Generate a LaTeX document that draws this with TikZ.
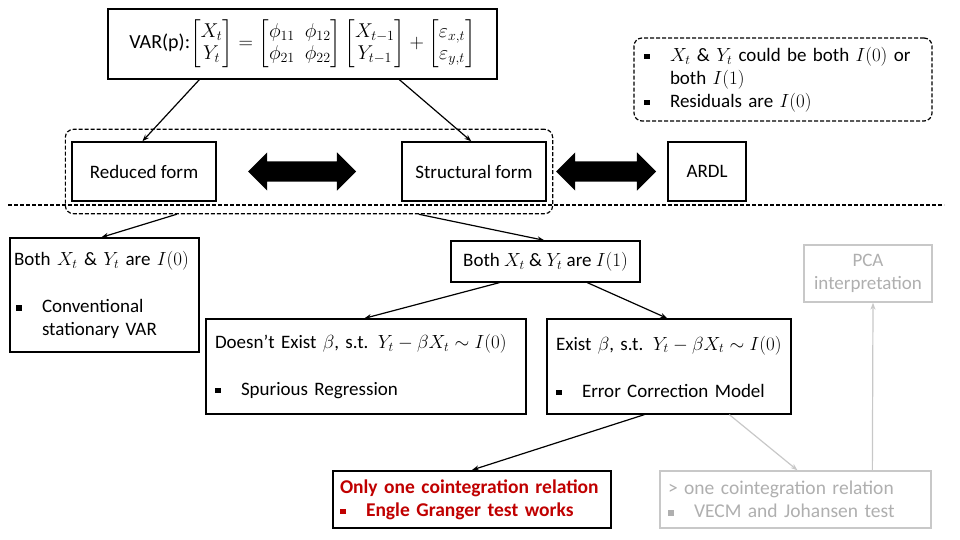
\documentclass[tikz,border=0pt]{standalone}
\usepackage{fix-cm}
\usepackage{amsmath, amssymb}
\usepackage{fontspec}
\setmainfont{Carlito}
\usepackage{tikz}
\usetikzlibrary{arrows.meta, positioning, shapes.arrows, fit}
\definecolor{eggred}{RGB}{192,0,0}
\definecolor{fadegrey}{RGB}{200,200,200}
\definecolor{fadetext}{RGB}{175,175,175}
\newcommand{\sqbul}{\makebox[26pt][l]{\rule[2pt]{5.5pt}{5.5pt}}}
\newcommand{\sqind}{\hspace*{26pt}}
\tikzset{
    boxnode/.style={rectangle, draw, line width=1.3pt, fill=white, inner xsep=9pt, inner ysep=2pt, align=left},
    formnode/.style={rectangle, draw, line width=1.3pt, fill=white, align=center, minimum height=59pt, inner sep=2pt},
    greynode/.style={rectangle, draw=fadegrey, text=fadetext, line width=1.3pt, fill=white, inner xsep=8pt, inner ysep=2pt},
    rednode/.style={rectangle, draw, line width=2pt, fill=white, text=eggred, font=\fontsize{19.5}{23}\selectfont\bfseries, inner xsep=7pt, align=left},
    dashnode/.style={rectangle, draw, dashed, dash pattern=on 4pt off 2pt, rounded corners=8pt, line width=1.2pt},
    bigarrow/.style={double arrow, fill=black, draw=none, inner sep=10pt, double arrow head extend=9pt},
    link/.style={-{Stealth[length=7pt, width=5pt]}, line width=1.2pt},
    greylink/.style={link, draw=fadegrey}
}

\begin{document}
\begin{tikzpicture}[x=1pt, y=-1pt, font=\fontsize{19}{23}\selectfont]
\useasboundingbox (0,0) rectangle (960,540);
% top: the model
\node[boxnode, minimum width=389pt, minimum height=70pt, align=center, font=\fontsize{20}{22}\selectfont] (var) at (302.5,44)
    {VAR(p):$\begin{bmatrix}X_t\\ Y_t\end{bmatrix}=\begin{bmatrix}\phi_{11} & \phi_{12}\\ \phi_{21} & \phi_{22}\end{bmatrix}\begin{bmatrix}X_{t-1}\\ Y_{t-1}\end{bmatrix}+\begin{bmatrix}\varepsilon_{x,t}\\ \varepsilon_{y,t}\end{bmatrix}$};
\node[dashnode, minimum width=298pt, minimum height=83pt, text width=278pt, align=left, inner xsep=10pt] (cond) at (783,79.5)
    {\sqbul$X_t$ \& $Y_t$ could be both $I(0)$ or\\ \sqind both $I(1)$\\ \sqbul Residuals are $I(0)$};
% the three forms
\node[formnode, minimum width=144pt] (reduced) at (144,171.5) {Reduced form};
\node[formnode, minimum width=144pt] (structural) at (474,171.5) {Structural form};
\node[formnode, minimum width=78pt] (ardl) at (707,171.5) {ARDL};
\node[bigarrow, minimum height=108pt] (rs) at (302,171.5) {};
\node[bigarrow, minimum height=100pt] (sa) at (606,171.5) {};
\node[dashnode, fit=(reduced)(structural), inner xsep=6pt, inner ysep=12pt] (grp) {};
\draw[dashed, dash pattern=on 4pt off 2pt, line width=1.2pt] (8,205) -- (944,205);
% integration order
\node[boxnode, text width=181pt, inner xsep=4pt, minimum height=114pt] (i0) at (104.5,295)
    {Both $X_t$ \& $Y_t$ are $I(0)$\\[24pt] \hspace*{2pt}\sqbul Conventional\\ \hspace*{2pt}\sqind stationary VAR};
\node[boxnode, minimum width=189pt, inner xsep=2pt, minimum height=41pt, align=center] (i1) at (545.5,261.5)
    {Both $X_t$ \& $Y_t$ are $I(1)$};
\node[greynode, minimum width=128pt, minimum height=57pt, align=center] (pca) at (868,273.5)
    {PCA\\ interpretation};
\node[boxnode, text width=302pt, minimum height=95pt] (noex) at (366,366.5)
    {Doesn't Exist $\beta$, s.t. $Y_t-\beta X_t\sim I(0)$\\[24pt] \sqbul Spurious Regression};
\node[boxnode, text width=226pt, minimum height=95pt] (ex) at (669,366.5)
    {Exist $\beta$, s.t. $Y_t-\beta X_t\sim I(0)$\\[24pt] \sqbul Error Correction Model};
% cointegration relations
\node[rednode, text width=264pt, minimum height=57pt] (one) at (472,499.5)
    {Only one cointegration relation\\ \sqbul Engle Granger test works};
\node[greynode, text width=255pt, minimum height=57pt, align=left, font=\fontsize{19.5}{23}\selectfont] (many) at (795.5,499.5)
    {> one cointegration relation\\ \sqbul VECM and Johansen test};
% connectors
\draw[link] ([xshift=92pt]var.south west) -- ([xshift=71pt]reduced.north west);
\draw[link] ([xshift=292pt]var.south west) -- ([xshift=70pt]structural.north west);
\draw[link] ([xshift=112pt]grp.south west) -- ([xshift=92pt]i0.north west);
\draw[link] ([xshift=354pt]grp.south west) -- ([xshift=94pt]i1.north west);
\draw[link] ([xshift=49pt]i1.south west) -- ([xshift=159pt]noex.north west);
\draw[link] ([xshift=137pt]i1.south west) -- ([xshift=121pt]ex.north west);
\draw[link] ([xshift=98pt]ex.south west) -- (one.north);
\draw[greylink] ([xshift=183pt]ex.south west) -- ([xshift=2pt]many.north);
\draw[greylink] ([xshift=213pt]many.north west) -- ([xshift=5pt]pca.south);
\end{tikzpicture}
\end{document}
